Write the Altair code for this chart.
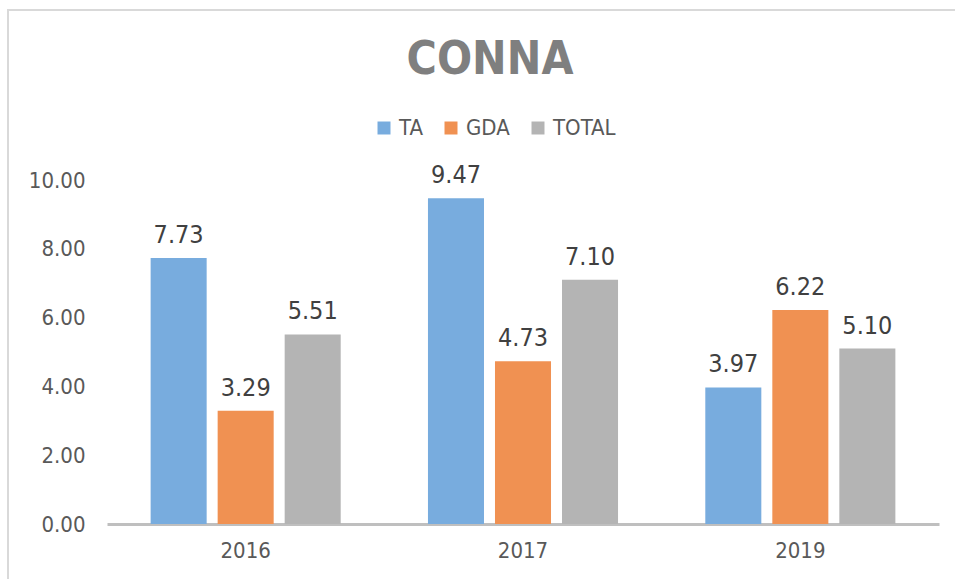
import altair as alt
import pandas as pd

years = ["2016", "2017", "2019"]
series = ["TA", "GDA", "TOTAL"]
ta = [7.73, 9.47, 3.97]
gda = [3.29, 4.73, 6.22]
total = [5.51, 7.10, 5.10]

rows = []
for i, y in enumerate(years):
    for s, vals in zip(series, [ta, gda, total]):
        rows.append({"year": y, "series": s, "value": vals[i]})
df = pd.DataFrame(rows)

colors = ["#78acde", "#f09152", "#b4b4b4"]
FONT = "DejaVu Sans Condensed"

x_enc = alt.X("year:N", sort=years, title=None,
              scale=alt.Scale(paddingInner=0, paddingOuter=0),
              axis=alt.Axis(labelAngle=0, labelFontSize=22, labelColor="#595959",
                            labelFont=FONT, ticks=False, domainColor="#bfbfbf",
                            domainWidth=3, labelPadding=16))
xo_enc = alt.XOffset("series:N", sort=series,
                     scale=alt.Scale(paddingInner=0.164, paddingOuter=0.651))
y_enc = alt.Y("value:Q", title=None,
              scale=alt.Scale(domain=[0, 10], nice=False),
              axis=alt.Axis(values=[0, 2, 4, 6, 8, 10], format=".2f", grid=False,
                            domain=False, ticks=False, labelFontSize=22,
                            labelColor="#595959", labelFont=FONT, labelPadding=22))

bars = alt.Chart(df).mark_bar().encode(
    x=x_enc, xOffset=xo_enc, y=y_enc,
    color=alt.Color("series:N", sort=series,
                    scale=alt.Scale(domain=series, range=colors),
                    legend=alt.Legend(title=None, orient="none", direction="horizontal",
                                      legendX=266, legendY=-63, symbolType="square",
                                      symbolSize=169, labelFontSize=22, labelFont=FONT,
                                      labelColor="#595959", columnPadding=17,
                                      labelOffset=4)),
)

labels = alt.Chart(df).mark_text(fontSize=25, font=FONT, color="#404040",
                                 baseline="alphabetic", dy=-15).encode(
    x=alt.X("year:N", sort=years), xOffset=alt.XOffset("series:N", sort=series),
    y="value:Q", text=alt.Text("value:Q", format=".2f"))

frame = alt.Chart(alt.Data(values=[{"a": 1}])).mark_rect(
    filled=False, stroke="#d9d9d9", strokeWidth=2).encode(
    x=alt.value(-99), x2=alt.value(870), y=alt.value(-170), y2=alt.value(440))

chart = alt.layer(frame, bars, labels).properties(
    width=832, height=344,
    title=alt.Title("CONNA", fontSize=46, fontWeight="bold", color="#7f7f7f",
                    font=FONT, dx=-33, offset=-75),
    padding={"left": 107, "top": 180, "right": 16, "bottom": 55},
    autosize=alt.AutoSizeParams(type="none"),
).configure_view(stroke=None).configure_title(limit=0)

chart.save("out.html", embed_options={"renderer": "svg", "actions": False})
